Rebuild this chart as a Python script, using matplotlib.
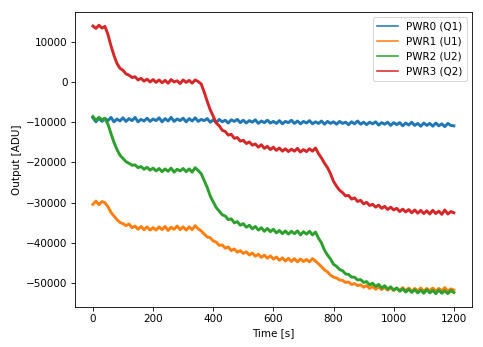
import numpy as np
import matplotlib
matplotlib.use("Agg")
import matplotlib.pyplot as plt

# time axis [s], one sample every 10 s
time_s = np.arange(0, 1201, 10)

pwr0 = [
    -8900, -9900, -9000, -9800, -9100,
    -9600, -8800, -9900, -9200, -9700, -8900,
    -9800, -9100, -9600, -8800, -9900, -9300, -9700, -9000, -9800, -9200,
    -9600, -8900, -9900, -9100, -9700, -8800, -9800, -9200, -9600, -9000,
    -9900, -9100, -9700, -8900, -9800, -9300, -9600, -9100, -10000, -9400,
    -10100, -9300, -9900, -9500, -10200, -9400, -9800, -9300, -10100, -9500,
    -10200, -9600, -10000, -9400, -10300, -9700, -10100, -9500, -10200, -9800,
    -10300, -9600, -10400, -9800, -10100, -9500, -10300, -9700, -10400, -9800,
    -10200, -9600, -10400, -9900, -10300, -9700, -10500, -9800, -10300, -9900,
    -10500, -9800, -10300, -10000, -10600, -9900, -10400, -9700, -10500, -10000,
    -10600, -10000, -10400, -9900, -10700, -10100, -10500, -10000, -10800, -10100,
    -10600, -10100, -10900, -10200, -10700, -10000, -10800, -10300, -11000, -10200,
    -10800, -10300, -11000, -10200, -10900, -10400, -11100, -10300, -10800, -10900,
]

pwr1 = [
    -30400, -29600, -30500, -29700, -30000,
    -31000, -32400, -33300, -34200, -34900, -35200,
    -35700, -35300, -36200, -35800, -36600, -35900, -36700, -36000, -36800, -36200,
    -36800, -36000, -36700, -35900, -36900, -36100, -36600, -35800, -36700, -36000,
    -36800, -36000, -36700, -35700, -36500, -37000, -37800, -38500, -38700, -39500,
    -39800, -40600, -40500, -41300, -41000, -41900, -41500, -42300, -41900, -42600,
    -42200, -43000, -42500, -43300, -42800, -43600, -43000, -43800, -43200, -44000,
    -43500, -44300, -43700, -44500, -43800, -44600, -43900, -44700, -44000, -44600,
    -44100, -44700, -43900, -44500, -45200, -45900, -46700, -47200, -48000, -48500,
    -48700, -49200, -49300, -49800, -49700, -50300, -50100, -50600, -50400, -51000,
    -50600, -51300, -50800, -51500, -50900, -51600, -51000, -51700, -51100, -51800,
    -51200, -51800, -51100, -51900, -51200, -52000, -51300, -51900, -51200, -52000,
    -51300, -51900, -51200, -52000, -51300, -51900, -51100, -52000, -51400, -51700,
]

pwr2 = [
    -8600, -9500, -8800, -9400, -9000,
    -10500, -12800, -15000, -16800, -18200, -19000,
    -19800, -20200, -20700, -20600, -21300, -21000, -21700, -21200, -21900, -21400,
    -22100, -21500, -22300, -21600, -22200, -21400, -22400, -21700, -22100, -21500,
    -22300, -21600, -22400, -21300, -22000, -22800, -24500, -26200, -28300, -29800,
    -31200, -32100, -33000, -33300, -34200, -34000, -35000, -34700, -35600, -35200,
    -36100, -35600, -36500, -35900, -36800, -36200, -37100, -36400, -37200, -36600,
    -37500, -36900, -37700, -37000, -37800, -37100, -37700, -37000, -38000, -37200,
    -37800, -37100, -38000, -37300, -38800, -40000, -41800, -43000, -44000, -45300,
    -45800, -46600, -46900, -47700, -47800, -48500, -48500, -49200, -49100, -49800,
    -49600, -50400, -50000, -50800, -50300, -51200, -50600, -51500, -50900, -51700,
    -51200, -52000, -51400, -52200, -51500, -52300, -51600, -52400, -51700, -52500,
    -51600, -52400, -51800, -52600, -51700, -52500, -51900, -52600, -51800, -52300,
]

pwr3 = [
    13900, 13300, 14100, 13400, 13800,
    11800, 9000, 6600, 4600, 3400, 2900,
    2000, 1700, 1100, 1300, 500, 900, 200, 700, 0, 600,
    -100, 500, -200, 400, -300, 600, 0, 300, -400, 500,
    -100, 400, -300, 500, 100, -500, -2500, -4800, -6900, -8500,
    -10200, -10900, -12000, -12300, -13200, -13000, -14000, -13800, -14700, -14500,
    -15300, -14900, -15700, -15400, -16200, -15600, -16500, -16000, -16800, -16200,
    -17000, -16400, -17200, -16600, -17300, -16700, -17200, -16500, -17400, -16800,
    -17300, -16600, -17200, -16400, -17800, -18900, -20200, -21300, -22800, -24700,
    -25900, -26900, -27500, -28300, -28200, -29100, -28800, -29700, -29400, -30300,
    -29900, -30700, -30400, -31100, -30600, -31400, -30900, -31700, -31100, -31800,
    -31400, -32200, -31600, -32300, -31700, -32500, -31800, -32600, -31900, -32700,
    -32000, -32800, -31900, -32700, -32100, -32900, -31800, -32800, -32200, -32500,
]

labels = ["PWR0 (Q1)", "PWR1 (U1)", "PWR2 (U2)", "PWR3 (Q2)"]
series = [pwr0, pwr1, pwr2, pwr3]

plt.rcParams['font.family'] = ['DejaVu Sans']
plt.rcParams['font.size'] = 10

fig = plt.figure(figsize=(483 / 75, 347 / 75), dpi=75)
ax = fig.add_axes([0.155, 0.115, 0.822, 0.851])
lines = []
for s, lab in zip(series, labels):
    ln, = ax.plot(time_s, s, label=lab, linewidth=2.8)
    lines.append(ln)

ax.set_xlabel("Time [s]")
ax.set_ylabel("Output [ADU]")
leg = ax.legend(loc="upper right")
for h in leg.get_lines():
    h.set_linewidth(1.5)

fig.savefig("out.png", dpi=75)
